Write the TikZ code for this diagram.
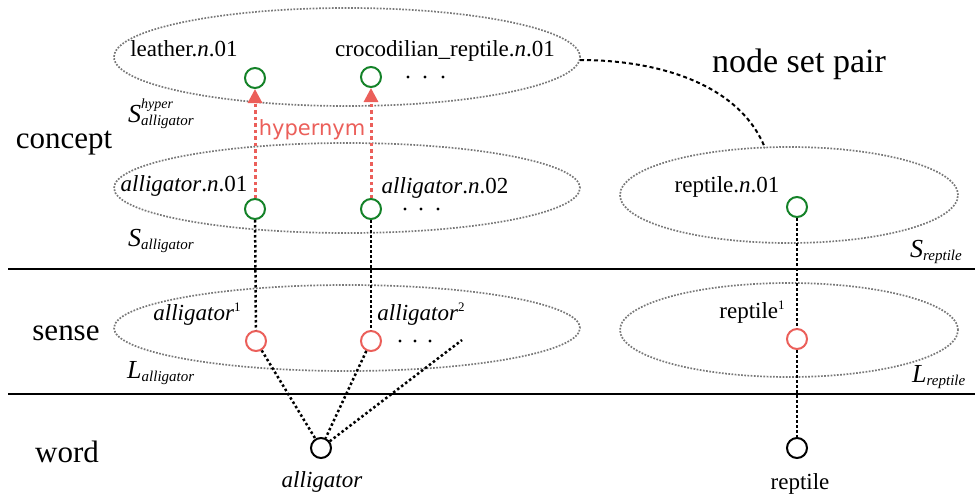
\documentclass[tikz,border=0pt]{standalone}
\usepackage{fontspec}
\setmainfont{Liberation Serif}
\newfontfamily\hypfont{DejaVu Sans}
\usetikzlibrary{arrows.meta}
\definecolor{cgreen}{RGB}{20,130,40}
\definecolor{cred}{RGB}{235,95,90}
\definecolor{cgray}{RGB}{120,120,120}
\newcommand\Sbig[1]{\fontsize{26}{30}\selectfont\textit{#1}}
\newcommand\Ssub[1]{\raisebox{-3pt}{\fontsize{15}{15}\selectfont\textit{#1}}}
\newcommand\Ssup[1]{\rlap{\raisebox{14pt}{\fontsize{14}{14}\selectfont\textit{#1}}}}
\newcommand\supone[1]{\raisebox{9pt}{\fontsize{13}{13}\selectfont #1}}
\begin{document}
\begin{tikzpicture}[x=1pt,y=-1pt,
  conc/.style={circle,draw=cgreen,line width=2pt,minimum size=20pt,inner sep=0pt},
  sens/.style={circle,draw=cred,line width=2pt,minimum size=20pt,inner sep=0pt},
  wrd/.style={circle,draw=black,line width=2pt,minimum size=20pt,inner sep=0pt},
  setell/.style={draw=cgray,line width=1.7pt,dash pattern=on 1.7pt off 1.5pt},
  link/.style={draw=black,line width=2.5pt,dash pattern=on 2.5pt off 2.5pt},
  hyp/.style={draw=cred,line width=3pt,dash pattern=on 3.5pt off 3pt,
    -{Triangle[width=14pt,length=14pt]}},
  pairlink/.style={draw=black,line width=2pt,dash pattern=on 4pt off 3pt},
  sepline/.style={draw=black,line width=1.8pt},
  lbl/.style={font=\fontsize{23}{27}\selectfont,inner sep=0pt,anchor=base},
  big/.style={font=\fontsize{31}{36}\selectfont,inner sep=0pt,anchor=base},
  setlbl/.style={inner sep=0pt,anchor=base west},
  dotfill/.style={fill=black}
]
\useasboundingbox (0,0) rectangle (975,493);

% separator lines
\coordinate (s1a) at (8,269);
\coordinate (s1b) at (975,269);
\coordinate (s2a) at (8,394);
\coordinate (s2b) at (975,394);
\draw[sepline] (s1a) -- (s1b);
\draw[sepline] (s2a) -- (s2b);

% set ellipses
\draw[setell] (347,57) ellipse [x radius=233pt, y radius=49pt];
\draw[setell] (347,188) ellipse [x radius=233pt, y radius=45pt];
\draw[setell] (347,328) ellipse [x radius=233pt, y radius=43pt];
\draw[setell] (789,195) ellipse [x radius=169pt, y radius=48pt];
\draw[setell] (789,330) ellipse [x radius=169pt, y radius=47pt];

% level labels
\node[big] (lconcept) at (64,148) {concept};
\node[big] (lsense) at (66,340) {sense};
\node[big] (lword) at (67,462) {word};
\node[font=\fontsize{34}{40}\selectfont,inner sep=0pt,anchor=base] (nsp) at (799,72) {node set pair};

% nodes
\node[conc] (lea) at (255,78) {};
\node[conc] (cro) at (371,77) {};
\node[conc] (an1) at (255,209) {};
\node[conc] (an2) at (371,209) {};
\node[sens] (al1) at (256,341) {};
\node[sens] (al2) at (371,341) {};
\node[wrd] (wa) at (321,448) {};
\coordinate (al3) at (462,340);
\node[conc] (rn) at (797,207) {};
\node[sens] (r1) at (797,339) {};
\node[wrd] (wr) at (797,448) {};

% ellipsis dots
\foreach \x in {408,425,443} \fill[dotfill] (\x,77) circle (1.6pt);
\foreach \x in {405,421,438} \fill[dotfill] (\x,209) circle (1.6pt);
\foreach \x in {400,415,430} \fill[dotfill] (\x,341) circle (1.6pt);

% node labels
\node[lbl] (tlea) at (184,56) {leather.\textit{n}.01};
\node[lbl] (tcro) at (445,56) {crocodilian\_reptile.\textit{n}.01};
\node[lbl] (tan1) at (184,191) {\textit{alligator}.\textit{n}.01};
\node[lbl] (tan2) at (445,193) {\textit{alligator}.\textit{n}.02};
\node[lbl] (tal1) at (197,320) {\textit{alligator}\supone{1}};
\node[lbl] (tal2) at (421,320) {\textit{alligator}\supone{2}};
\node[lbl] (twa) at (322,487) {\textit{alligator}};
\node[lbl] (trn) at (727,192) {reptile.\textit{n}.01};
\node[lbl] (tr1) at (752,318) {reptile\supone{1}};
\node[lbl] (twr) at (800,489) {reptile};

% set labels
\node[setlbl] (shyp) at (128,122) {\Sbig{S}\Ssup{hyper}\Ssub{alligator}};
\node[setlbl] (sall) at (128,246) {\Sbig{S}\Ssub{alligator}};
\node[setlbl] (lall) at (127,378) {\Sbig{L}\Ssub{alligator}};
\node[setlbl] (srep) at (910,257) {\Sbig{S}\Ssub{reptile}};
\node[setlbl] (lrep) at (912,382) {\Sbig{L}\Ssub{reptile}};

% hypernym links
\draw[hyp] (an1) -- (lea);
\draw[hyp] (an2) -- (cro);
\node[inner sep=0pt,anchor=base,text=cred,font=\hypfont\fontsize{21}{25}\selectfont] (thyp) at (312,135) {hypernym};

% sense links
\draw[link] (an1) -- (al1);
\draw[link] (an2) -- (al2);
\draw[link] (al1) -- (wa);
\draw[link] (al2) -- (wa);
\draw[link] (wa) -- (al3);
\draw[link] (rn) -- (r1);
\draw[link] (r1) -- (wr);

% node set pair link
\coordinate (hypE) at (580,60);
\coordinate (repT) at (765,148);
\draw[pairlink] (hypE) .. controls (660,60) and (740,85) .. (repT);
\end{tikzpicture}
\end{document}
